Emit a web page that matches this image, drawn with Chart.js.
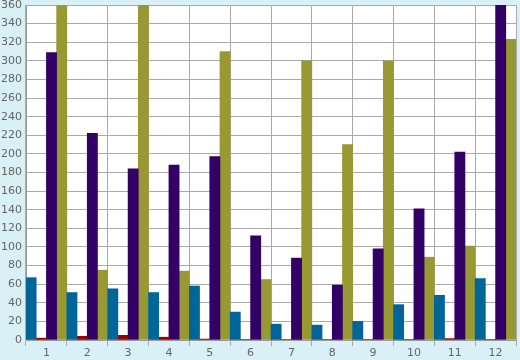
<!DOCTYPE html>
<html><head><meta charset="utf-8">
<script src="https://cdn.jsdelivr.net/npm/chart.js@4"></script>
<style>html,body{margin:0;padding:0;background:#d9f0f7;}#wrap{width:520px;height:360px;}</style>
</head><body><div id="wrap"><canvas id="c" width="520" height="360"></canvas></div>
<script>
const categories = ['1','2','3','4','5','6','7','8','9','10','11','12'];
const seriesBlue = [67, 51, 55, 51, 58, 30, 17, 16, 20, 38, 48, 66];
const seriesRed = [2, 4, 5, 3, 1, 0.5, 0.5, 0.5, 0.5, 0.5, 1.5, 0.5];
const seriesPurple = [309, 222, 184, 188, 197, 112, 88, 59, 98, 141, 202, 360];
const seriesOlive = [375, 75, 375, 74, 310, 65, 300, 210, 300, 89, 101, 323];
const yTicks = {min: 0, max: 360, step: 20};

const bg = {
  id: 'bg',
  beforeDraw(chart) {
    const {ctx, chartArea: a} = chart;
    ctx.save();
    ctx.fillStyle = '#d9f0f7';
    ctx.fillRect(0, 0, chart.width, chart.height);
    ctx.fillStyle = '#ffffff';
    ctx.fillRect(a.left, a.top, a.right - a.left, a.bottom - a.top);
    ctx.restore();
  }
};

new Chart(document.getElementById('c'), {
  type: 'bar',
  data: {
    labels: categories,
    datasets: [
      {data: seriesBlue, backgroundColor: '#006699'},
      {data: seriesRed, backgroundColor: '#990000'},
      {data: seriesPurple, backgroundColor: '#330066'},
      {data: seriesOlive, backgroundColor: '#999933'}
    ]
  },
  options: {
    responsive: false,
    animation: false,
    layout: {padding: {top: 5, right: 4, left: 0, bottom: 0}},
    plugins: {legend: {display: false}, tooltip: {enabled: false}},
    datasets: {bar: {barPercentage: 1, categoryPercentage: 1, borderWidth: 0}},
    scales: {
      x: {
        grid: {color: '#aaaaaa', lineWidth: 1, offset: true, tickLength: 6, drawTicks: true},
        border: {color: '#999999'},
        ticks: {color: '#666666', font: {family: 'DejaVu Sans', size: 11}, padding: 1},
        afterFit(s) { s.height = 20; s.paddingLeft = 0; s.paddingRight = 0; }
      },
      y: {
        min: yTicks.min, max: yTicks.max,
        grid: {color: '#aaaaaa', lineWidth: 1, drawTicks: false},
        border: {color: '#999999'},
        ticks: {stepSize: yTicks.step, color: '#666666', font: {family: 'DejaVu Sans', size: 11}, padding: 4},
        afterFit(s) { s.width = 26; s.paddingTop = 0; s.paddingBottom = 0; }
      }
    }
  },
  plugins: [bg]
});
</script></body></html>
